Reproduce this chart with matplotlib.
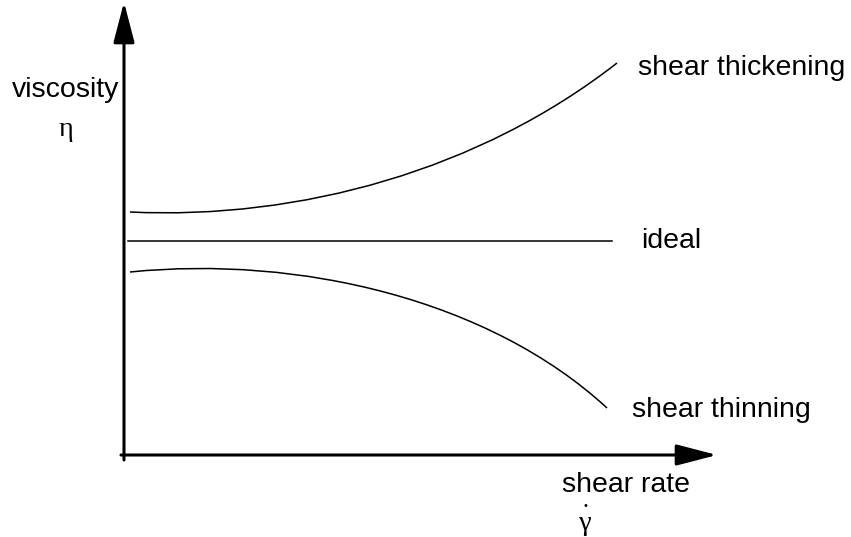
import matplotlib.pyplot as plt
from matplotlib.path import Path
from matplotlib.patches import PathPatch

plt.rcParams["font.family"] = ["Liberation Sans", "DejaVu Sans"]

# schematic curves as cubic Bezier control points
# x = shear rate, y = viscosity (arbitrary units, origin at the axes corner)
thick_x = [0.06, 1.76, 3.56, 4.93]
thick_y = [2.43, 2.35, 2.85, 3.92]

ideal_x = [0.04, 4.88]
ideal_y = [2.14, 2.14]

thin_x = [0.06, 1.76, 3.66, 4.83]
thin_y = [1.83, 2.00, 1.55, 0.47]

fig = plt.figure(figsize=(8.51, 5.37), dpi=100)
ax = fig.add_axes([0, 0, 1, 1])
ax.set_xlim(-1.24, 7.27)
ax.set_ylim(-0.82, 4.55)
ax.axis("off")

codes = [Path.MOVETO, Path.CURVE4, Path.CURVE4, Path.CURVE4]
for xs, ys in [(thick_x, thick_y), (thin_x, thin_y)]:
    path = Path(list(zip(xs, ys)), codes)
    ax.add_patch(PathPatch(path, fill=False, edgecolor="black", lw=1.1))
ax.plot(ideal_x, ideal_y, color="black", lw=1.1)

# axes with arrow heads
arrow = dict(arrowstyle="-|>,head_length=2.5,head_width=0.65", color="black",
             lw=2.2, mutation_scale=10, shrinkA=0, shrinkB=0)
ax.annotate("", xy=(0, 4.53), xytext=(0, -0.05), arrowprops=arrow)
ax.annotate("", xy=(5.93, 0), xytext=(-0.03, 0), arrowprops=arrow)

fs = 20.5
serif = ["Liberation Serif", "DejaVu Serif"]
ax.text(-0.58, 3.65, "viscosity", fontsize=fs, ha="center", va="center")
ax.text(-0.58, 3.26, "η", fontsize=fs, ha="center", va="center", family=serif)
ax.text(5.14, 3.87, "shear thickening", fontsize=fs, ha="left", va="center")
ax.text(5.17, 2.14, "ideal", fontsize=fs, ha="left", va="center")
ax.text(5.08, 0.45, "shear thinning", fontsize=fs, ha="left", va="center")
ax.text(4.38, -0.30, "shear rate", fontsize=fs, ha="left", va="center")
ax.text(4.61, -0.68, "γ", fontsize=fs, ha="center", va="center", family=serif)
ax.text(4.615, -0.51, "•", fontsize=7, ha="center", va="center", family="DejaVu Sans")

fig.savefig("out.png", dpi=100)
